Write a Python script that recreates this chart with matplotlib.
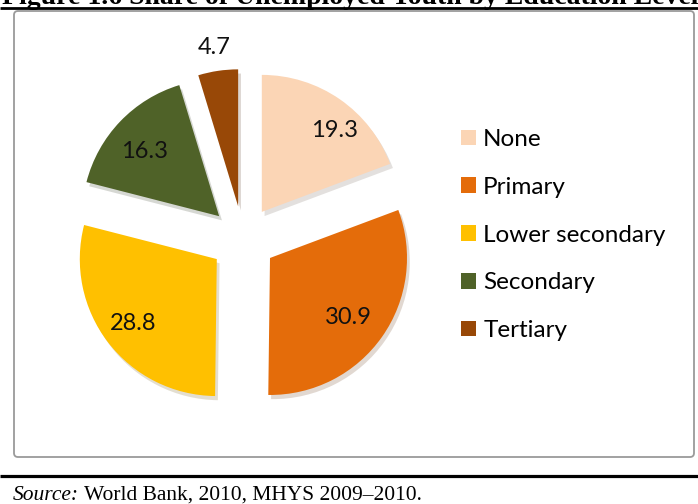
import matplotlib.pyplot as plt
import numpy as np
from matplotlib.patches import FancyBboxPatch

# data
categories = ["None", "Primary", "Lower secondary", "Secondary", "Tertiary"]
shares = [19.3, 30.9, 28.8, 16.3, 4.7]
colors = ["#FBD5B5", "#E46C0A", "#FFC000", "#4F6228", "#984807"]
title = "Figure 1.6 Share of Unemployed Youth by Education Level"
source = " World Bank, 2010, MHYS 2009\u20132010."

W, H = 698, 504
fig = plt.figure(figsize=(W / 100, H / 100), dpi=100)
ax = fig.add_axes([0, 0, 1, 1])

# pie, everything in pixel units (y up); explode is in data units here
cx, cy, r = 243, H - 239, 137
wedges, _ = ax.pie(shares, colors=colors, startangle=90, counterclock=False,
                   explode=[33] * len(shares), radius=r, center=(cx, cy),
                   shadow={'ox': 2, 'oy': -3, 'shade': 0.6, 'alpha': 0.18},
                   wedgeprops=dict(linewidth=0))

# value labels (Excel style, inside except the small slice)
lab_dist = [0.80, 0.72, 0.77, 0.72, 1.17]
lab_turn = [-7, -2, 0, 3, 0]
for w, v, d, t in zip(wedges, shares, lab_dist, lab_turn):
    mid = np.deg2rad((w.theta1 + w.theta2) / 2 + t)
    x0, y0 = w.center
    ax.text(x0 + d * r * np.cos(mid), y0 + d * r * np.sin(mid), f"{v:.1f}",
            ha='center', va='center', fontsize=17, family='Lato', color='#111111')

ax.legend(wedges, categories, loc='center left', bbox_to_anchor=(439, H - 235),
          bbox_transform=ax.transData, frameon=False, prop={'family': 'Lato', 'size': 17.5},
          handlelength=0.62, handleheight=0.62, handletextpad=0.3, labelspacing=1.1)

ax.set_xlim(0, W)
ax.set_ylim(0, H)
ax.set_aspect('auto')
ax.axis('off')

# chart frame
ax.add_patch(FancyBboxPatch((14, H - 457), 680, 446, boxstyle="round,pad=0,rounding_size=4",
                            fill=False, edgecolor='#9a9a9a', linewidth=1.3))

# document rules and text around the chart
ax.plot([0, W], [H - 8, H - 8], color='black', linewidth=2.0, solid_capstyle='butt')
ax.plot([0, W], [H - 476, H - 476], color='black', linewidth=2.3, solid_capstyle='butt')
ax.text(2, H - 4, title, fontsize=20, fontweight='bold', family='Liberation Serif',
        va='baseline', ha='left')
t1 = ax.text(13, 4, "Source:", fontsize=15.5, style='italic', family='Liberation Serif',
             va='baseline', ha='left')
ax.annotate(source, xy=(1, 0), xycoords=t1, fontsize=15.5, family='Liberation Serif',
            va='bottom', ha='left')

fig.savefig("out.png", dpi=100)
